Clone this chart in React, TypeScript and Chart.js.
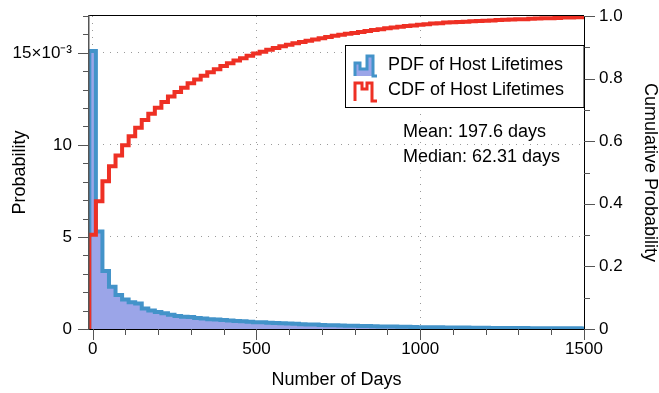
import React, { useEffect, useRef } from 'react';
import { Chart, registerables } from 'chart.js';

Chart.register(...registerables);

// ---- data ----
const binWidthDays = 20;
const binCenters = [
  0, 20, 40, 60, 80, 100, 120, 140, 160, 180,
  200, 220, 240, 260, 280, 300, 320, 340, 360, 380,
  400, 420, 440, 460, 480, 500, 520, 540, 560, 580,
  600, 620, 640, 660, 680, 700, 720, 740, 760, 780,
  800, 820, 840, 860, 880, 900, 920, 940, 960, 980,
  1000, 1020, 1040, 1060, 1080, 1100, 1120, 1140, 1160, 1180,
  1200, 1220, 1240, 1260, 1280, 1300, 1320, 1340, 1360, 1380,
  1400, 1420, 1440, 1460, 1480, 1500,
];
// probability per day, in units of 10^-3
const pdfValues = [
  15.1, 5.3, 3.15, 2.3, 1.85, 1.6, 1.45, 1.38, 1.12, 1.0,
  0.93, 0.85, 0.77, 0.7, 0.66, 0.65, 0.6, 0.57, 0.53, 0.52,
  0.49, 0.46, 0.44, 0.42, 0.39, 0.37, 0.36, 0.34, 0.33, 0.31,
  0.3, 0.28, 0.26, 0.25, 0.24, 0.22, 0.21, 0.2, 0.19, 0.18,
  0.17, 0.16, 0.16, 0.15, 0.14, 0.14, 0.13, 0.12, 0.12, 0.11,
  0.1, 0.1, 0.095, 0.09, 0.085, 0.08, 0.08, 0.075, 0.07, 0.07,
  0.065, 0.06, 0.06, 0.055, 0.055, 0.05, 0.05, 0.045, 0.045, 0.04,
  0.04, 0.04, 0.035, 0.035, 0.035, 0.03,
];
const cdfValues = [
  0.301, 0.408, 0.472, 0.52, 0.554, 0.587, 0.616, 0.643, 0.668, 0.688,
  0.707, 0.725, 0.743, 0.757, 0.771, 0.785, 0.797, 0.809, 0.82, 0.83,
  0.84, 0.849, 0.858, 0.865, 0.873, 0.88, 0.886, 0.892, 0.898, 0.903,
  0.908, 0.913, 0.917, 0.921, 0.925, 0.929, 0.933, 0.937, 0.94, 0.943,
  0.946, 0.949, 0.952, 0.955, 0.958, 0.961, 0.963, 0.966, 0.968, 0.97,
  0.972, 0.974, 0.976, 0.977, 0.979, 0.98, 0.981, 0.982, 0.983, 0.984,
  0.985, 0.986, 0.987, 0.988, 0.989, 0.99, 0.99, 0.991, 0.992, 0.993,
  0.993, 0.994, 0.995, 0.995, 0.996, 0.996,
];

const xTickValues = [0, 500, 1000, 1500];
const xTickLabels = ['0', '500', '1000', '1500'];
const leftTickValues = [0, 5, 10, 15];
const leftTickLabels = ['0', '5', '10', '15×10⁻³'];
const rightTickValues = [0, 0.2, 0.4, 0.6, 0.8, 1.0];
const rightTickLabels = ['0', '0.2', '0.4', '0.6', '0.8', '1.0'];
const legendLabels = ['PDF of Host Lifetimes', 'CDF of Host Lifetimes'];
const statsLines = ['Mean: 197.6 days', 'Median: 62.31 days'];
const xTitle = 'Number of Days';
const leftTitle = 'Probability';
const rightTitle = 'Cumulative Probability';

// ---- styles ----
const FONT = '"Liberation Sans", Arial, Helvetica, sans-serif';
const BLUE = '#4393c9';
const FILL = '#9ba5e8';
const RED = '#ee3024';
const GRID = '#9a9a9a';
const TICK = '#555555';

function stepPoints(values: number[]) {
  const half = binWidthDays / 2;
  const pts = [{ x: binCenters[0] - half, y: 0 }];
  values.forEach((v, i) => pts.push({ x: binCenters[i] - half, y: v }));
  const last = binCenters.length - 1;
  pts.push({ x: binCenters[last] + half, y: values[last] });
  return pts;
}

const decorPlugin = {
  id: 'decor',
  afterDraw(chart: any) {
    const { ctx, chartArea } = chart;
    const { left, right, top, bottom } = chartArea;
    const sx = chart.scales.x;
    const sy = chart.scales.y;
    const sy1 = chart.scales.y1;
    ctx.save();

    // frame
    ctx.lineWidth = 1;
    ctx.strokeStyle = '#000';
    ctx.beginPath();
    ctx.moveTo(left, top - 0.5);
    ctx.lineTo(right, top - 0.5);
    ctx.moveTo(right + 0.5, top);
    ctx.lineTo(right + 0.5, bottom);
    ctx.moveTo(left, bottom + 0.5);
    ctx.lineTo(right + 1, bottom + 0.5);
    ctx.stroke();
    ctx.strokeStyle = '#555';
    ctx.lineWidth = 1.5;
    ctx.beginPath();
    ctx.moveTo(left - 0.25, top - 1);
    ctx.lineTo(left - 0.25, bottom + 1);
    ctx.stroke();

    // tick marks
    ctx.strokeStyle = TICK;
    ctx.lineWidth = 1;
    ctx.beginPath();
    for (let v = 0; v <= 17; v += 1) {
      const p = Math.round(sy.getPixelForValue(v)) + 0.5;
      const len = v % 5 === 0 ? 11 : 6;
      ctx.moveTo(left - len, p);
      ctx.lineTo(left, p);
    }
    for (let i = 0; i <= 10; i += 1) {
      const p = Math.round(sy1.getPixelForValue(i / 10)) + 0.5;
      const len = i % 2 === 0 ? 11 : 6;
      ctx.moveTo(right, p);
      ctx.lineTo(right + len, p);
    }
    for (let v = 0; v <= 1500; v += 100) {
      const p = Math.round(sx.getPixelForValue(v)) + 0.5;
      const len = v % 500 === 0 ? 11 : 6;
      ctx.moveTo(p, bottom);
      ctx.lineTo(p, bottom + len);
    }
    ctx.stroke();

    // legend box
    const bx = 345.5, by = 45.5, bw = right - 345.5, bh = 62;
    ctx.fillStyle = '#fff';
    ctx.fillRect(bx, by, bw, bh);
    ctx.strokeStyle = '#000';
    ctx.lineWidth = 1;
    ctx.strokeRect(bx, by, bw, bh);

    // icons
    const drawIcon = (x0: number, y0: number, pts: number[][], stroke: string, fill?: string) => {
      ctx.beginPath();
      pts.forEach(([x, y], i) => (i === 0 ? ctx.moveTo(x0 + x, y0 + y) : ctx.lineTo(x0 + x, y0 + y)));
      if (fill) {
        ctx.fillStyle = fill;
        ctx.fill();
      }
      ctx.strokeStyle = stroke;
      ctx.lineWidth = 3;
      ctx.lineJoin = 'miter';
      ctx.stroke();
    };
    drawIcon(355, 55, [[0, 21], [0, 8], [5, 8], [5, 14], [12, 14], [12, 1], [18, 1], [18, 21], [22, 21]], BLUE, FILL);
    drawIcon(355, 80, [[0, 21], [0, 3], [7, 3], [7, 9], [12, 9], [12, 3], [17, 3], [17, 21], [22, 21]], RED);

    ctx.fillStyle = '#000';
    ctx.font = `18px ${FONT}`;
    ctx.textBaseline = 'middle';
    ctx.textAlign = 'left';
    ctx.fillText(legendLabels[0], 388, 65);
    ctx.fillText(legendLabels[1], 388, 90);
    ctx.fillText(statsLines[0], 403, 132);
    ctx.fillText(statsLines[1], 403, 157);
    ctx.restore();
  },
};

export default function App() {
  const canvasRef = useRef<HTMLCanvasElement | null>(null);

  useEffect(() => {
    const canvas = canvasRef.current;
    if (!canvas) return;
    const tickFont = { family: FONT, size: 17 };
    const titleFont = { family: FONT, size: 18 };
    const fitVertical = (w: number) => (s: any) => {
      s.width = w;
      s.paddingTop = 0;
      s.paddingBottom = 0;
    };
    const chart = new Chart(canvas, {
      type: 'line',
      data: {
        datasets: [
          {
            label: legendLabels[1],
            data: stepPoints(cdfValues),
            yAxisID: 'y1',
            stepped: 'before',
            borderColor: RED,
            borderWidth: 4,
            pointRadius: 0,
            fill: false,
            order: 0,
            clip: 0,
            borderJoinStyle: 'miter',
          },
          {
            label: legendLabels[0],
            data: stepPoints(pdfValues),
            yAxisID: 'y',
            stepped: 'before',
            borderColor: BLUE,
            backgroundColor: FILL,
            borderWidth: 4,
            pointRadius: 0,
            fill: 'origin',
            order: 1,
            clip: 0,
            borderJoinStyle: 'miter',
          },
        ],
      },
      options: {
        animation: false,
        responsive: false,
        devicePixelRatio: 1,
        layout: { padding: { top: 16, left: 0, right: 0, bottom: 0 } },
        plugins: { legend: { display: false }, tooltip: { enabled: false } },
        scales: {
          x: {
            type: 'linear',
            position: 'bottom',
            min: -11,
            max: 1500,
            afterBuildTicks: (s: any) => {
              s.ticks = xTickValues.map((v) => ({ value: v }));
            },
            afterFit: (s: any) => {
              s.height = 64;
              s.paddingLeft = 0;
              s.paddingRight = 0;
            },
            ticks: {
              callback: (_v: any, i: number) => xTickLabels[i],
              font: tickFont,
              color: '#000',
              padding: 10,
              maxRotation: 0,
              autoSkip: false,
            },
            grid: {
              drawTicks: false,
              lineWidth: 1,
              color: (c: any) => (c.tick && c.tick.value < 1500 ? GRID : 'rgba(0,0,0,0)'),
            },
            border: { display: false, dash: [1, 6] },
            title: { display: true, text: xTitle, font: titleFont, color: '#000', padding: { top: 0, bottom: 2 } },
          },
          y: {
            type: 'linear',
            position: 'left',
            min: 0,
            max: 17,
            afterBuildTicks: (s: any) => {
              s.ticks = leftTickValues.map((v) => ({ value: v }));
            },
            afterFit: fitVertical(89),
            ticks: {
              callback: (_v: any, i: number) => leftTickLabels[i],
              font: tickFont,
              color: '#000',
              padding: 17,
            },
            grid: {
              drawTicks: false,
              lineWidth: 1,
              color: (c: any) => (c.tick && c.tick.value > 0 ? GRID : 'rgba(0,0,0,0)'),
            },
            border: { display: false, dash: [1, 6] },
            title: { display: true, text: leftTitle, font: titleFont, color: '#000', padding: { top: 9, bottom: 0 } },
          },
          y1: {
            type: 'linear',
            position: 'right',
            min: 0,
            max: 1,
            afterBuildTicks: (s: any) => {
              s.ticks = rightTickValues.map((v) => ({ value: v }));
            },
            afterFit: fitVertical(75),
            ticks: {
              callback: (_v: any, i: number) => rightTickLabels[i],
              font: tickFont,
              color: '#000',
              padding: 15,
            },
            grid: { display: false, drawTicks: false },
            border: { display: false },
            title: { display: true, text: rightTitle, font: titleFont, color: '#000', padding: { top: -2, bottom: 0 } },
          },
        },
      },
      plugins: [decorPlugin],
    } as any);
    return () => chart.destroy();
  }, []);

  return (
    <div style={{ position: 'absolute', left: 0, top: 0, width: 659, height: 393, background: '#fff' }}>
      <canvas ref={canvasRef} width={659} height={393} style={{ display: 'block', width: 659, height: 393 }} />
    </div>
  );
}
